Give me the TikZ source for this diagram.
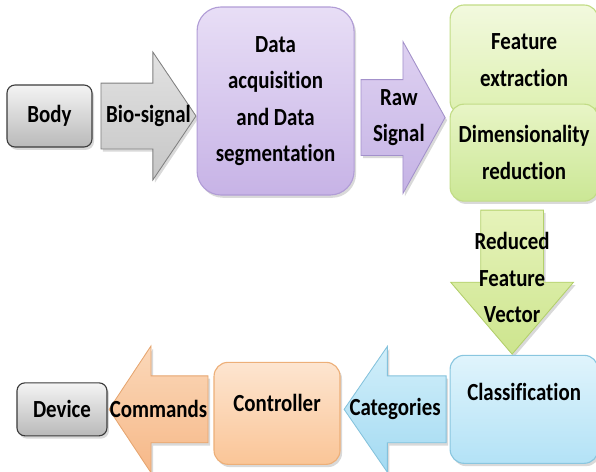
\documentclass[tikz,border=0pt]{standalone}
\usepackage{fontspec}
\setmainfont[FakeStretch=0.85, Ligatures=NoCommon]{Carlito}
\usetikzlibrary{positioning,shapes.arrows,shadows,calc}

\definecolor{grayT}{HTML}{F4F4F4}
\definecolor{grayB}{HTML}{B9B9B9}
\definecolor{grayD}{HTML}{3C3C3C}
\definecolor{bioT}{HTML}{E2E2E2}
\definecolor{bioB}{HTML}{C6C6C6}
\definecolor{bioD}{HTML}{808080}
\definecolor{purT}{HTML}{E8DEF6}
\definecolor{purB}{HTML}{C7B3E6}
\definecolor{purD}{HTML}{B19DD6}
\definecolor{rawT}{HTML}{DED1F1}
\definecolor{rawB}{HTML}{C5B3E5}
\definecolor{rawD}{HTML}{A391CB}
\definecolor{grnT}{HTML}{F2F9DE}
\definecolor{grnB}{HTML}{DDF0B0}
\definecolor{grnD}{HTML}{C2DC86}
\definecolor{dimT}{HTML}{E8F5C6}
\definecolor{dimB}{HTML}{CBE795}
\definecolor{redT}{HTML}{E6F3BA}
\definecolor{redB}{HTML}{CDE58E}
\definecolor{redD}{HTML}{B3D06A}
\definecolor{bluT}{HTML}{E0F4FC}
\definecolor{bluB}{HTML}{B3E2F6}
\definecolor{bluD}{HTML}{89C6DF}
\definecolor{catT}{HTML}{D2EFFA}
\definecolor{catB}{HTML}{A3DAF2}
\definecolor{catD}{HTML}{84C2DC}
\definecolor{orgT}{HTML}{FDE5D0}
\definecolor{orgB}{HTML}{FAC597}
\definecolor{orgD}{HTML}{EDAF78}
\definecolor{cmdT}{HTML}{FBD8B9}
\definecolor{cmdB}{HTML}{F6B888}
\definecolor{cmdD}{HTML}{E6A56F}

\tikzset{
  shd/.style={drop shadow={opacity=.3,shadow xshift=.05cm,shadow yshift=-.07cm}},
  box/.style={draw, shd, rounded corners=0.2cm, line width=0.8pt, align=center, inner sep=0pt,
    font=\fontsize{17.5}{26}\selectfont\bfseries},
  arr/.style={single arrow, draw, shd, inner xsep=0pt, line width=0.6pt},
  lbl/.style={align=center, inner sep=0pt, font=\fontsize{17.5}{26}\selectfont\bfseries},
}

\begin{document}
\begin{tikzpicture}
\useasboundingbox (0,0) rectangle (14.9,-11.775);

  % Define nodes
\node[box, top color=grayT, bottom color=grayB, draw=grayD, minimum width=2.125cm, minimum height=1.55cm] (body) at (1.2375,-2.9) {Body};
\node[arr, top color=bioT, bottom color=bioB, draw=bioD, minimum height=2.375cm, minimum width=3.175cm, inner ysep=0.8125cm,
  single arrow head extend=0.775cm, single arrow tip angle=112, right=0.2cm of body] (bio) {};
\node[box, rounded corners=0.6cm, top color=purT, bottom color=purB, draw=purD, minimum width=3.925cm, minimum height=4.7cm,
  right=0cm of bio, yshift=0.375cm] (acq) {Data\\acquisition\\and Data\\segmentation};
\node[arr, top color=rawT, bottom color=rawB, draw=rawD, minimum height=2.1cm, minimum width=3.775cm, inner ysep=0.9375cm,
  single arrow head extend=0.95cm, single arrow tip angle=122, right=0.15cm of acq, yshift=-0.4125cm] (raw) {};
\node[box, rounded corners=0.35cm, top color=grnT, bottom color=grnB, draw=grnD, minimum width=3.7cm, minimum height=2.75cm,
  right=0.1cm of raw, yshift=1.4375cm] (feat) {Feature\\extraction};
\node[box, rounded corners=0.35cm, top color=dimT, bottom color=dimB, draw=grnD, minimum width=3.7cm, minimum height=2.425cm,
  below=-0.3cm of feat] (dim) {Dimensionality\\reduction};
\node[arr, top color=redT, bottom color=redB, draw=redD, shape border rotate=270, minimum height=3.6cm, minimum width=3.05cm,
  inner sep=0.775cm, single arrow head extend=0.75cm, single arrow tip angle=81, below=0.2cm of dim, xshift=-0.3cm] (red) {};
\node[box, rounded corners=0.35cm, top color=bluT, bottom color=bluB, draw=bluD, minimum width=3.7cm, minimum height=2.7cm,
  text depth=0.85cm, below=0cm of red, xshift=0.3cm] (cls) {Classification};
\node[arr, top color=catT, bottom color=catB, draw=catD, shape border rotate=180, minimum height=2.55cm, minimum width=3.125cm,
  inner ysep=0.825cm, single arrow head extend=0.7375cm, single arrow tip angle=111, left=0.075cm of cls] (cat) {};
\node[box, rounded corners=0.35cm, top color=orgT, bottom color=orgB, draw=orgD, minimum width=3.15cm, minimum height=2.55cm,
  text depth=0.5cm, left=0.075cm of cat, yshift=-0.1cm] (ctrl) {Controller};
\node[arr, top color=cmdT, bottom color=cmdB, draw=cmdD, shape border rotate=180, minimum height=2.475cm, minimum width=3.15cm,
  inner ysep=0.825cm, single arrow head extend=0.75cm, single arrow tip angle=113, left=0.125cm of ctrl, yshift=0.1cm] (cmd) {};
\node[box, top color=grayT, bottom color=grayB, draw=grayD, minimum width=2.25cm, minimum height=1.325cm,
  left=0.025cm of cmd] (dev) {Device};

  % Arrow texts
\node[lbl] (biot) at ($(bio.tail)!.5!(bio.tip)$) {Bio-signal};
\node[lbl] (rawt) at ($(raw.tail)!.45!(raw.tip)$) {Raw\\Signal};
\node[lbl] (redt) at ($(red.tail)!.47!(red.tip)$) {Reduced\\Feature\\Vector};
\node[lbl] (catt) at ($(cat.tail)!.5!(cat.tip)$) {Categories};
\node[lbl] (cmdt) at ($(cmd.tail)!.5!(cmd.tip)$) {Commands};

\end{tikzpicture}
\end{document}
